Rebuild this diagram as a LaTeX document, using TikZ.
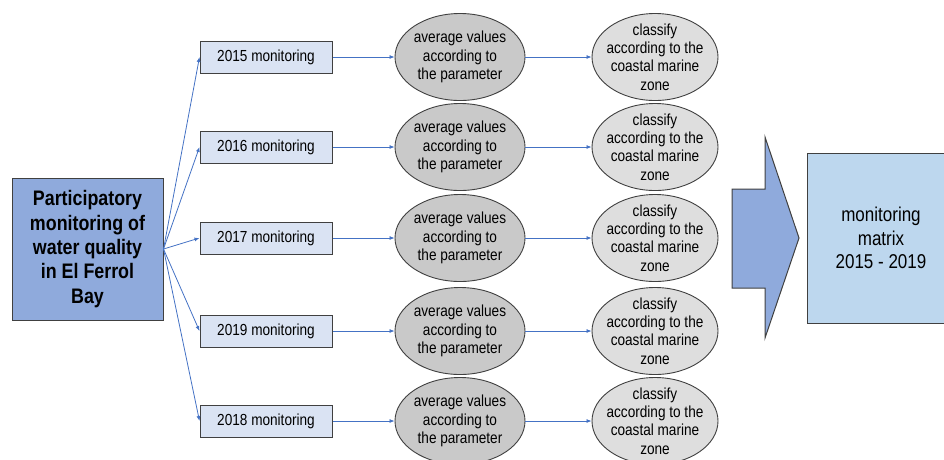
\documentclass[tikz,border=0pt]{standalone}
\usepackage{fontspec}
\setmainfont[FakeStretch=0.85]{Liberation Sans}
\usetikzlibrary{arrows.meta, shapes.geometric}

\definecolor{bluscuro}{HTML}{8FAADC}
\definecolor{celeste}{HTML}{DAE3F3}
\definecolor{azzurro}{HTML}{BDD7EE}
\definecolor{grigio}{HTML}{C9C9C9}
\definecolor{grigiochiaro}{HTML}{DEDEDE}
\definecolor{bordo}{HTML}{404040}
\definecolor{frecciablu}{HTML}{4472C4}

\begin{document}
\begin{tikzpicture}[x=1pt, y=-1pt,
	freccia/.style={draw=frecciablu, line width=0.8pt, -{Latex[length=5pt,width=4pt]}},
	principale/.style={draw=bordo, line width=1pt, fill=bluscuro, minimum width=151pt, minimum height=142pt, inner sep=0pt, align=center, font=\fontsize{21}{24.3}\selectfont\bfseries},
	box/.style={draw=bordo, line width=1pt, fill=celeste, minimum width=132pt, minimum height=32pt, inner sep=0pt, font=\fontsize{16}{18.4}\selectfont},
	media/.style={ellipse, draw=bordo, line width=0.9pt, fill=grigio, minimum width=130pt, minimum height=87pt, inner sep=-6pt, align=center, font=\fontsize{16}{18.4}\selectfont},
	classe/.style={media, fill=grigiochiaro, minimum width=126pt},
	matrice/.style={draw=bordo, line width=1pt, fill=azzurro, minimum width=148pt, minimum height=170pt, inner sep=0pt, align=center, font=\fontsize{20}{23.3}\selectfont}]
					%%%	Help Lines
%					\draw [thin, help lines] (0,0) grid[step=50] (944,459);
					\useasboundingbox (0,0) rectangle (944,459);
					
					%%% Nodi
					\node[principale] (P) at (87.5,249) {Participatory\\monitoring of\\water quality\\in El Ferrol\\Bay};
					\node[matrice] (X) at (881,238) {monitoring\\matrix\\2015 - 2019};	% Matrice finale
					
					%%% Righe (anno / quota)
					\foreach \anno/\y in {2015/57, 2016/147, 2017/238, 2019/331, 2018/421}{
						\node[box] (M\anno) at (266,\y) {\anno\ monitoring};
						\node[media] (A\anno) at (460,\y) {average values\\according to\\the parameter};
						\node[classe] (C\anno) at (655,\y) {classify\\according to the\\coastal marine\\zone};
						\draw[freccia] (P.east) -- (M\anno.west);
						\draw[freccia] (M\anno) -- (A\anno);
						\draw[freccia] (A\anno) -- (C\anno);
					}
					
					%%% Freccia grande verso la matrice
					\draw[fill=bluscuro, draw=bordo, line width=1pt] (732,189) -- (765,189) -- (765,137) -- (799,238) -- (765,338) -- (765,288) -- (732,288) -- cycle;
\end{tikzpicture}
\end{document}
